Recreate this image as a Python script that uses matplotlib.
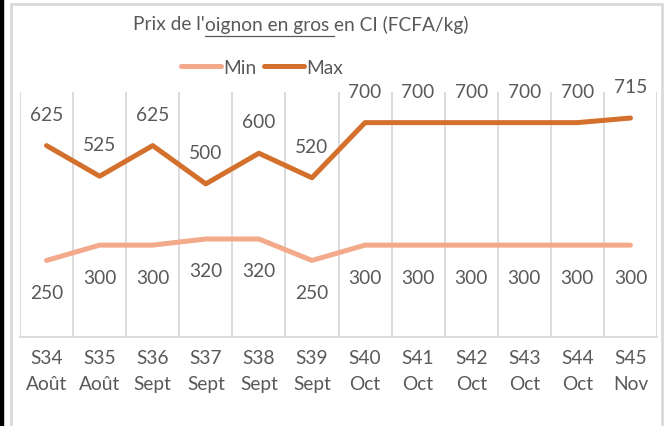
import matplotlib
matplotlib.use("Agg")
import matplotlib.pyplot as plt
from matplotlib.patches import Rectangle
from matplotlib.lines import Line2D

weeks = ["S34", "S35", "S36", "S37", "S38", "S39", "S40", "S41", "S42", "S43", "S44", "S45"]
months = ["Août", "Août", "Sept", "Sept", "Sept", "Sept", "Oct", "Oct", "Oct", "Oct", "Oct", "Nov"]
prix_min = [250, 300, 300, 320, 320, 250, 300, 300, 300, 300, 300, 300]
prix_max = [625, 525, 625, 500, 600, 520, 700, 700, 700, 700, 700, 715]

c_min = "#F3AA8B"
c_max = "#D3702C"
txt = "#595959"
grid = "#D9D9D9"
fs = 13.8

plt.rcParams["font.family"] = ["Lato", "DejaVu Sans"]

W, H = 667, 427
fig = plt.figure(figsize=(W / 100, H / 100), dpi=100)

# cadre du graphique + bande noire a gauche
fig.patches.append(Rectangle((0, 0), 3 / W, 1, transform=fig.transFigure, color="black", zorder=0))
fig.patches.append(Rectangle((10.5 / W, -0.1), 651.5 / W, 1.1 - 5.5 / H, transform=fig.transFigure,
                             fill=False, edgecolor=grid, linewidth=2, zorder=0))

ax = fig.add_axes([20 / W, 1 - 338 / H, 637 / W, 245 / H])
x = list(range(len(weeks)))

ax.plot(x, prix_min, color=c_min, lw=3.6, solid_capstyle="round", label="Min")
ax.plot(x, prix_max, color=c_max, lw=3.6, solid_capstyle="round", label="Max")

for xi, v in zip(x, prix_min):
    ax.annotate(str(v), (xi, v), xytext=(0, -23), textcoords="offset points",
                ha="center", va="center", fontsize=fs, color=txt, annotation_clip=False)
for xi, v in zip(x, prix_max):
    ax.annotate(str(v), (xi, v), xytext=(0, 22.5), textcoords="offset points",
                ha="center", va="center", fontsize=fs, color=txt, annotation_clip=False)

ax.set_xlim(-0.5, len(weeks) - 0.5)
ax.set_ylim(0, 800)
ax.set_yticks([])
for xb in [i - 0.5 for i in range(len(weeks) + 1)]:
    ax.axvline(xb, color=grid, lw=1.3, zorder=0)
ax.set_xticks(x)
ax.set_xticklabels([f"{w}\n{m}" for w, m in zip(weeks, months)], fontsize=fs, color=txt, linespacing=1.6)
ax.tick_params(axis="x", length=0, pad=9)
for s in ["top", "left", "right"]:
    ax.spines[s].set_visible(False)
ax.spines["bottom"].set_color(grid)
ax.spines["bottom"].set_linewidth(1.3)

# titre avec partie soulignee
fig.canvas.draw()
r = fig.canvas.get_renderer()
parts = ["Prix de l'", "oignon en gros ", "en CI (FCFA/kg)"]
ty = 1 - 25 / H
xpos = 133 / W
for i, p in enumerate(parts):
    t = fig.text(xpos, ty, p, fontsize=fs, color=txt, ha="left", va="center")
    bb = t.get_window_extent(r)
    if i == 1:
        uy = 1 - 37 / H
        fig.lines.append(Line2D([bb.x0 / W, bb.x1 / W], [uy, uy], transform=fig.transFigure,
                                color=txt, lw=0.9))
    xpos = bb.x1 / W

fig.legend(loc="center", bbox_to_anchor=(262 / W, 1 - 68 / H), ncol=2, frameon=False,
           fontsize=fs, labelcolor=txt, handlelength=2.1, handletextpad=0.15, columnspacing=0.35)

fig.savefig("out.png", dpi=100)
